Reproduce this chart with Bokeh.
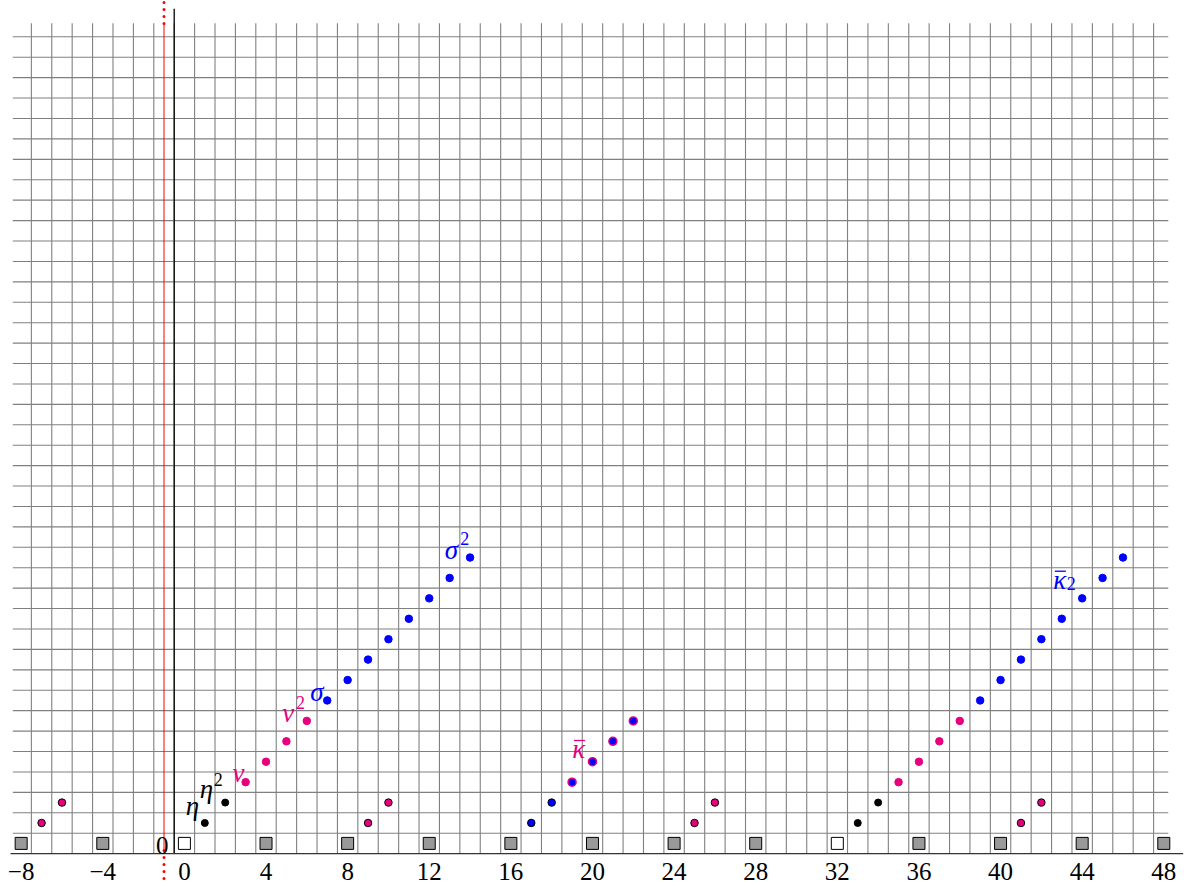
import numpy as np
from bokeh.plotting import figure
from bokeh.models import Range1d, ColumnDataSource
from bokeh.core.properties import value
from bokeh.embed import file_html
from bokeh.resources import INLINE

# ---------------- data ----------------
tick_values = [-8, -4, 0, 4, 8, 12, 16, 20, 24, 28, 32, 36, 40, 44, 48]
tick_labels = ["\u22128", "\u22124", "0", "4", "8", "12", "16", "20", "24",
               "28", "32", "36", "40", "44", "48"]

square_x = [-8, -4, 0, 4, 8, 12, 16, 20, 24, 28, 32, 36, 40, 44, 48]
square_hollow = [False, False, True, False, False, False, False, False,
                 False, False, True, False, False, False, False]

black_x = [1, 2, 33, 34]
black_y = [1, 2, 1, 2]

pink_ring_x = [-7, -6, 9, 10, 25, 26, 41, 42]
pink_ring_y = [1, 2, 1, 2, 1, 2, 1, 2]

pink_x = [3, 4, 5, 6, 35, 36, 37, 38]
pink_y = [3, 4, 5, 6, 3, 4, 5, 6]

blue_x = [7, 8, 9, 10, 11, 12, 13, 14, 39, 40, 41, 42, 43, 44, 45, 46]
blue_y = [7, 8, 9, 10, 11, 12, 13, 14, 7, 8, 9, 10, 11, 12, 13, 14]

blue_ring_black_x = [17, 18]
blue_ring_black_y = [1, 2]

blue_ring_pink_x = [19, 20, 21, 22]
blue_ring_pink_y = [3, 4, 5, 6]

# math labels: base symbol, plus a superscript / subscript "2"
label_base = ["\u03b7", "\u03b7", "\u03bd", "\u03bd", "\u03c3", "\u03c3",
              "\u03ba", "\u03ba"]
label_x = [0.40, 1.08, 2.65, 5.09, 6.50, 13.09, 19.33, 42.90]
label_y = [1.85, 2.65, 3.47, 6.39, 7.42, 14.39, 4.64, 12.89]
label_kind = ["black", "black", "pink", "pink", "blue", "blue", "pink", "blue"]

script_text = ["2", "2", "2", "2"]          # η², ν², σ², κ̄₂
script_x = [1.66, 5.69, 13.74, 43.47]
script_y = [3.12, 6.90, 14.93, 12.72]
script_kind = ["black", "pink", "blue", "blue"]

bar_x = [19.36, 42.93]                       # macron over κ̄ and κ̄₂
bar_y = [5.04, 13.33]
bar_kind = ["pink", "blue"]

PINK = "#e6007e"
BLUE = "#0000ff"
colors = {"black": "black", "pink": PINK, "blue": BLUE}

# ---------------- figure ----------------
X0, SX, Y0, SY = 183.9, 20.404, 842.9, 20.42
W, H = 1187, 886
p = figure(width=W, height=H,
           x_range=Range1d(-X0 / SX, (W - X0) / SX),
           y_range=Range1d((Y0 - H) / SY, Y0 / SY),
           x_axis_type=None, y_axis_type=None,
           output_backend="svg", toolbar_location=None, min_border=0)
p.grid.visible = False
p.outline_line_color = None
p.background_fill_color = "white"
p.border_fill_color = "white"

# grid
vx = np.arange(-7.5, 47.6, 1.0)
p.segment(x0=vx, y0=-0.5, x1=vx, y1=40.17, line_color="#808080", line_width=1.1)
hy = np.arange(0.5, 39.6, 1.0)
p.segment(x0=-8.41, y0=hy, x1=48.22, y1=hy, line_color="#808080", line_width=1.1)

# red line at x = -1
p.segment(x0=[-1], y0=[-0.35], x1=[-1], y1=[40.15], line_color="red", line_width=1)
p.segment(x0=[-1, -1], y0=[-0.35, 40.15], x1=[-1, -1], y1=[-2.0, 41.3],
          line_color="red", line_width=3, line_dash="0 7", line_cap="round")

# axes lines
p.segment(x0=[-0.5], y0=[-0.5], x1=[-0.5], y1=[40.87], line_color="black", line_width=1.3)
p.segment(x0=[-8.52], y0=[-0.5], x1=[48.95], y1=[-0.5], line_color="#333333", line_width=1.3)

# squares
sq_fill = ["white" if h else "#999999" for h in square_hollow]
p.scatter(x=square_x, y=[0] * len(square_x), marker="square", size=12,
          fill_color=sq_fill, line_color="black", line_width=1)

# dots
p.scatter(x=black_x, y=black_y, size=7, fill_color="black", line_color="black")
p.scatter(x=pink_ring_x, y=pink_ring_y, size=7.5, fill_color=PINK,
          line_color="black", line_width=1)
p.scatter(x=pink_x, y=pink_y, size=7.5, fill_color=PINK, line_color=PINK)
p.scatter(x=blue_x, y=blue_y, size=7.5, fill_color=BLUE, line_color=BLUE)
p.scatter(x=blue_ring_black_x, y=blue_ring_black_y, size=7.5, fill_color=BLUE,
          line_color="black", line_width=1)
p.scatter(x=blue_ring_pink_x, y=blue_ring_pink_y, size=8, fill_color=BLUE,
          line_color=PINK, line_width=1.5)

# labels
lsrc = ColumnDataSource(dict(x=label_x, y=label_y, t=label_base,
                             c=[colors[k] for k in label_kind]))
p.text(x="x", y="y", text="t", source=lsrc, text_color="c",
       text_font=value("Liberation Serif"), text_font_style="italic",
       text_font_size="27px", text_align="center", text_baseline="alphabetic")
ssrc = ColumnDataSource(dict(x=script_x, y=script_y, t=script_text,
                             c=[colors[k] for k in script_kind]))
p.text(x="x", y="y", text="t", source=ssrc, text_color="c",
       text_font=value("Liberation Serif"), text_font_size="18px",
       text_align="center", text_baseline="alphabetic")
bsrc = ColumnDataSource(dict(x0=[b - 0.27 for b in bar_x], x1=[b + 0.27 for b in bar_x],
                             y=bar_y, c=[colors[k] for k in bar_kind]))
p.segment(x0="x0", y0="y", x1="x1", y1="y", source=bsrc, line_color="c", line_width=1.3)

# "0" marker label
p.text(x=[-1.09], y=[-0.09], text=["0"], text_color="black",
       text_font=value("Liberation Serif"), text_font_size="25px",
       text_align="center", text_baseline="alphabetic")

# x tick labels
p.text(x=tick_values, y=[-1.38] * len(tick_values), text=tick_labels,
       text_color="black", text_font=value("Liberation Serif"),
       text_font_size="25px", text_align="center", text_baseline="alphabetic")

open("out.html", "w").write(file_html(p, INLINE))
